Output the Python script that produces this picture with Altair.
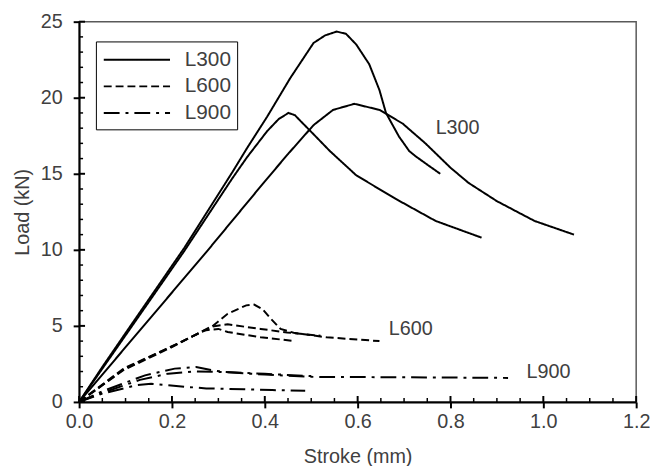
import altair as alt
import pandas as pd

# ---- data (Stroke mm, Load kN) ----
l300a_x = [0, 0.05, 0.113, 0.226, 0.33, 0.362, 0.405, 0.455, 0.505, 0.53, 0.555, 0.575, 0.597, 0.625, 0.647, 0.661, 0.689, 0.711, 0.725, 0.75, 0.778]
l300a_y = [0, 2.3, 5.1, 10.1, 15.1, 16.7, 18.75, 21.3, 23.6, 24.1, 24.35, 24.2, 23.5, 22.2, 20.5, 19.0, 17.45, 16.5, 16.15, 15.6, 15.0]

l300b_x = [0, 0.113, 0.226, 0.33, 0.362, 0.405, 0.43, 0.451, 0.465, 0.476, 0.505, 0.54, 0.597, 0.682, 0.768, 0.867]
l300b_y = [0, 4.95, 9.9, 14.7, 16.1, 17.8, 18.6, 19.0, 18.85, 18.5, 17.6, 16.5, 14.9, 13.35, 11.9, 10.8]

l300c_x = [0, 0.139, 0.278, 0.40, 0.45, 0.505, 0.547, 0.593, 0.647, 0.697, 0.746, 0.80, 0.839, 0.90, 0.981, 1.066]
l300c_y = [0, 5.0, 10.0, 14.5, 16.3, 18.2, 19.2, 19.6, 19.2, 18.3, 17.0, 15.4, 14.4, 13.2, 11.9, 11.0]

l600a_x = [0, 0.05, 0.096, 0.203, 0.284, 0.32, 0.36, 0.377, 0.395, 0.412, 0.434, 0.462, 0.533, 0.647]
l600a_y = [0, 1.15, 2.2, 3.7, 4.9, 5.8, 6.35, 6.4, 6.1, 5.5, 4.8, 4.55, 4.25, 4.0]

l600b_x = [0, 0.05, 0.096, 0.203, 0.284, 0.32, 0.391, 0.448, 0.52]
l600b_y = [0, 1.1, 2.1, 3.65, 4.95, 5.1, 4.8, 4.57, 4.35]

l600c_x = [0, 0.05, 0.096, 0.203, 0.27, 0.30, 0.32, 0.391, 0.466]
l600c_y = [0, 1.1, 2.15, 3.7, 4.7, 4.8, 4.6, 4.25, 4.0]

l900a_x = [0, 0.05, 0.142, 0.206, 0.252, 0.284, 0.31, 0.4, 0.5]
l900a_y = [0, 0.7, 1.75, 2.19, 2.3, 2.1, 1.98, 1.85, 1.7]

l900b_x = [0, 0.05, 0.131, 0.192, 0.25, 0.306, 0.4, 0.497, 0.711, 0.924]
l900b_y = [0, 0.6, 1.45, 1.86, 2.0, 1.97, 1.8, 1.65, 1.62, 1.58]

l900c_x = [0, 0.05, 0.124, 0.155, 0.227, 0.274, 0.355, 0.416, 0.487]
l900c_y = [0, 0.55, 1.1, 1.2, 1.0, 0.89, 0.83, 0.78, 0.74]

groups = ["L300", "L600", "L900"]

label_text = ["L300", "L600", "L900"]
label_x = [0.768, 0.667, 0.964]
label_y = [18.0, 4.82, 1.96]

x_major = [0.0, 0.2, 0.4, 0.6, 0.8, 1.0, 1.2]
x_minor = [0.05, 0.1, 0.15, 0.25, 0.3, 0.35, 0.45, 0.5, 0.55, 0.65, 0.7, 0.75,
           0.85, 0.9, 0.95, 1.05, 1.1, 1.15]
y_major = [0, 5, 10, 15, 20, 25]
y_minor = [1, 2, 3, 4, 6, 7, 8, 9, 11, 12, 13, 14, 16, 17, 18, 19, 21, 22, 23, 24]

curves = [
    ("A300", "L300", l300a_x, l300a_y),
    ("B300", "L300", l300b_x, l300b_y),
    ("C300", "L300", l300c_x, l300c_y),
    ("A600", "L600", l600a_x, l600a_y),
    ("B600", "L600", l600b_x, l600b_y),
    ("C600", "L600", l600c_x, l600c_y),
    ("A900", "L900", l900a_x, l900a_y),
    ("B900", "L900", l900b_x, l900b_y),
    ("C900", "L900", l900c_x, l900c_y),
]
rows = []
for name, grp, xs, ys in curves:
    for i, (xv, yv) in enumerate(zip(xs, ys)):
        rows.append({"curve": name, "group": grp, "x": xv, "y": yv, "ord": i})
df = pd.DataFrame(rows)

W, H = 564, 385
FONT = "Liberation Sans"
TXT = "#404040"
XT = "Stroke (mm)"
YT = "Load (kN)"

xscale = alt.Scale(domain=[0, 1.2], nice=False, zero=False)
yscale = alt.Scale(domain=[0, 25], nice=False)
xaxis = alt.Axis(values=x_major, format=".1f", tickSize=6, labelPadding=4,
                 titlePadding=15, labelFlush=False, labelOverlap=False)
yaxis = alt.Axis(values=y_major, tickSize=6, labelPadding=11, titlePadding=8,
                 labelFlush=False, labelOverlap=False)

lines = alt.Chart(df).mark_line(color="black", strokeWidth=2).encode(
    x=alt.X("x:Q", scale=xscale, title=XT, axis=xaxis),
    y=alt.Y("y:Q", scale=yscale, title=YT, axis=yaxis),
    strokeDash=alt.StrokeDash(
        "group:N",
        scale=alt.Scale(domain=groups, range=[[1, 0], [8, 4], [16, 6, 3, 6]]),
        legend=alt.Legend(
            title=None, orient="none", legendX=17, legendY=20,
            symbolType="M-3,0H3", symbolSize=500, symbolStrokeWidth=2,
            symbolStrokeColor="black", symbolOffset=23, labelOffset=36,
            padding=6, rowPadding=4, strokeColor="black", fillColor="white",
            labelFontSize=21, labelFont=FONT, labelColor=TXT,
        ),
    ),
    detail="curve:N",
    order="ord:Q",
)

lab_df = pd.DataFrame({"t": label_text, "tx": label_x, "ty": label_y})
labels = alt.Chart(lab_df).mark_text(align="left", baseline="middle", fontSize=20,
                                     font=FONT, color=TXT).encode(
    x=alt.X("tx:Q", scale=xscale, title=XT, axis=xaxis),
    y=alt.Y("ty:Q", scale=yscale, title=YT, axis=yaxis),
    text="t:N",
)

xmaj = alt.Chart(pd.DataFrame({"v": x_major})).mark_rule(color="black", strokeWidth=2).encode(
    x=alt.X("v:Q", scale=xscale, title=XT, axis=xaxis), y=alt.value(H), y2=alt.value(H - 6))
xmin = alt.Chart(pd.DataFrame({"v": x_minor})).mark_rule(color="black", strokeWidth=1.5).encode(
    x=alt.X("v:Q", scale=xscale, title=XT, axis=xaxis), y=alt.value(H), y2=alt.value(H - 4))
ymaj = alt.Chart(pd.DataFrame({"v": y_major})).mark_rule(color="black", strokeWidth=2).encode(
    y=alt.Y("v:Q", scale=yscale, title=YT, axis=yaxis), x=alt.value(0), x2=alt.value(6))
ymin = alt.Chart(pd.DataFrame({"v": y_minor})).mark_rule(color="black", strokeWidth=1.5).encode(
    y=alt.Y("v:Q", scale=yscale, title=YT, axis=yaxis), x=alt.value(0), x2=alt.value(4))

chart = alt.layer(lines, labels, xmaj, xmin, ymaj, ymin).properties(
    width=W, height=H,
    padding={"left": 72, "top": 11, "right": 14, "bottom": 62},
    autosize=alt.AutoSizeParams(type="none"),
).configure_view(
    stroke="#595959", strokeWidth=1.5
).configure_axis(
    grid=False, domainColor="black", domainWidth=2, tickColor="black", tickWidth=2,
    labelFont=FONT, labelFontSize=20, labelColor=TXT,
    titleFont=FONT, titleFontSize=20, titleColor=TXT, titleFontWeight="normal",
)

chart.save("out.html", embed_options={"renderer": "svg", "actions": False})
